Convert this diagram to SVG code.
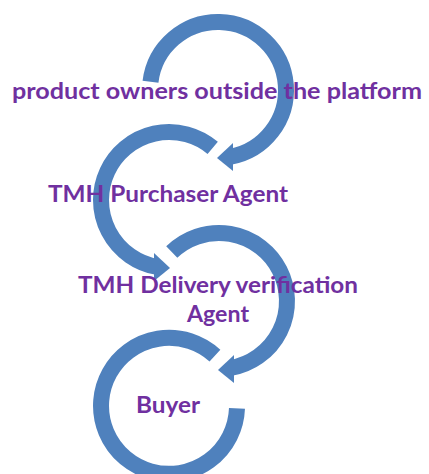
<svg xmlns="http://www.w3.org/2000/svg" width="429" height="474" viewBox="0 0 429 474">
<style>
.arc{fill:none;stroke:#4F81BD;stroke-width:16;stroke-linecap:butt}
.head{fill:#4F81BD}
.lbl{font-family:Lato,"Open Sans","Liberation Sans",sans-serif;font-weight:bold;font-size:22px;fill:#7030A0;text-anchor:middle}
</style>
<rect width="429" height="474" fill="#ffffff"/>
<g id="connectors">
<g id="arc1">
<path class="arc" d="M150.51,81.71 A68,68 0 1 1 229.81,156.97"/>
<polygon class="head" points="217,158 233,143 233,171"/>
</g>
<g id="arc2">
<path class="arc" d="M212.71,147.91 A68,68 0 1 0 157.19,266.97"/>
<polygon class="head" points="170,268 154,253 154,281"/>
</g>
<g id="arc3">
<path class="arc" d="M171.76,252.08 A68,68 0 1 1 230.81,367.97"/>
<polygon class="head" points="218,370 234,355 234,383"/>
</g>
<g id="arc4">
<path class="arc" d="M214.95,355.71 A68,68 0 1 0 236.98,408.37"/>
</g>
</g>
<g id="node1"><text class="lbl" x="217" y="99" textLength="410" lengthAdjust="spacingAndGlyphs">product owners outside the platform</text></g>
<g id="node2"><text class="lbl" x="168" y="202" textLength="240" lengthAdjust="spacingAndGlyphs">TMH Purchaser Agent</text></g>
<g id="node3"><text class="lbl" x="218" y="293" textLength="280" lengthAdjust="spacingAndGlyphs">TMH Delivery verification</text><text class="lbl" x="218" y="322" textLength="62" lengthAdjust="spacingAndGlyphs">Agent</text></g>
<g id="node4"><text class="lbl" x="168" y="413" textLength="64" lengthAdjust="spacingAndGlyphs">Buyer</text></g>
</svg>
